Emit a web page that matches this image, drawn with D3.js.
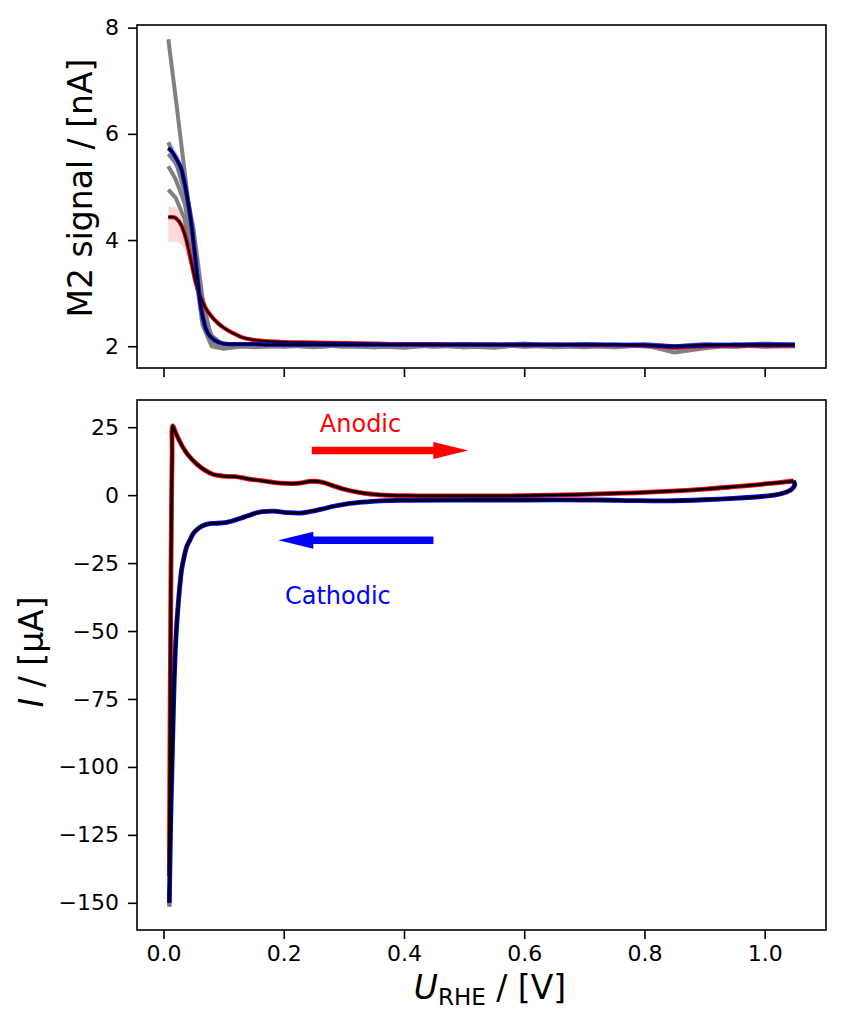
<!DOCTYPE html>
<html><head><meta charset="utf-8">
<script src="https://cdn.jsdelivr.net/npm/d3@7"></script>
<style>body{margin:0;background:#fff}svg{display:block}text{font-family:"DejaVu Sans",sans-serif}</style>
</head><body>
<script>
// ---------- Data ----------
// CV, anodic sweep
const anodicU = [0.0097,0.0105,0.0115,0.0125,0.0135,0.0143,0.0153,0.02,0.03,0.04,0.055,0.07,0.083,0.1,0.12,0.138,0.166,0.194,0.222,0.247,0.265,0.28,0.305,0.332,0.36,0.4,0.5,0.6,0.7,0.8,0.9,0.95,1.0,1.048];
const anodicI = [-140,-100,-60,-25,0,15,25.5,23,18.5,15,11.5,9,7.6,7,6.8,6.1,5.2,4.4,4.3,5.1,4.7,3.6,1.9,0.7,0.1,-0.2,-0.3,-0.2,0.3,1.0,2.2,3.1,4.1,5.2];
// CV, cathodic sweep
const cathodicU = [1.048,1.05,1.045,1.037,1.02,1.0,0.948,0.9,0.837,0.78,0.726,0.6,0.5,0.4,0.36,0.33,0.305,0.285,0.266,0.245,0.227,0.205,0.183,0.165,0.155,0.14,0.127,0.105,0.085,0.077,0.066,0.058,0.05,0.044,0.0386,0.034,0.030,0.0246,0.0208,0.0175,0.0147,0.012,0.0097];
const cathodicI = [5.2,3.8,2.2,1.2,0.2,-0.4,-1.2,-1.7,-2.1,-2.0,-1.8,-1.8,-1.8,-1.9,-2.1,-2.6,-3.2,-4.0,-5.0,-6.0,-6.6,-6.4,-5.9,-6.1,-6.5,-7.6,-8.6,-10.0,-10.4,-10.5,-11.2,-12.2,-14,-16.5,-19,-23,-27.6,-39.8,-52,-70.5,-95,-119.6,-150];
const grayTipU = [0.0097,0.0097];
const grayTipI = [-145,-151.5];

// M2 signal, individual cycles (coarse grid)
const msU = [0.008,0.02,0.035,0.05,0.065,0.08,0.1,0.125,0.15,0.2,0.25,0.3,0.35,0.4,0.45,0.5,0.55,0.6,0.65,0.7,0.75,0.8,0.85,0.9,0.95,1.0,1.05];
const cycle1 = [7.78,6.7,5.3,3.9,2.6,2.08,1.97,2.0,2.02,2.0,2.03,1.99,2.02,2.0,2.03,1.98,2.02,2.0,2.02,1.99,2.03,2.0,1.97,2.02,1.99,2.03,2.01];
const cycle2 = [5.84,5.5,4.9,3.6,2.4,2.0,1.95,1.99,2.01,2.03,1.98,2.02,2.0,1.97,2.02,2.0,1.97,2.03,1.99,2.01,1.98,2.02,1.88,1.96,2.02,1.99,2.0];
const cycle3 = [5.39,5.15,4.7,3.8,2.7,2.2,2.02,2.03,2.04,2.02,2.05,2.01,2.04,2.03,2.0,2.04,2.02,2.05,2.01,2.04,2.02,2.04,2.0,2.04,2.02,2.05,2.03];
const cycle4 = [4.95,4.8,4.4,3.5,2.6,2.15,1.98,2.03,2.01,1.99,2.02,2.0,1.98,2.02,1.99,2.01,2.03,1.99,2.01,1.98,2.02,2.0,1.96,1.99,2.03,2.0,2.02];
const cycle5 = [5.62,5.45,5.1,4.2,2.9,2.1,1.97,2.0,1.98,2.01,1.99,2.02,1.98,2.0,2.02,1.98,2.0,2.02,1.98,2.01,1.99,2.02,1.98,2.01,1.99,2.02,2.0];

// M2 signal, means and bands (fine grid)
const meanU = [0.008,0.015,0.022,0.03,0.038,0.046,0.054,0.062,0.07,0.08,0.09,0.1,0.115,0.13,0.15,0.175,0.2,0.25,0.3,0.35,0.4,0.45,0.5,0.55,0.6,0.65,0.7,0.75,0.8,0.85,0.9,0.95,1.0,1.05];
const anodicMS = [4.43,4.43,4.40,4.27,4.0,3.6,3.18,2.92,2.72,2.56,2.44,2.35,2.25,2.17,2.12,2.09,2.08,2.07,2.06,2.05,2.04,2.04,2.03,2.03,2.02,2.03,2.02,2.02,2.01,1.98,2.0,2.01,2.01,2.01];
const anodicLo = [3.97,3.97,3.97,3.9,3.7,3.4,3.05,2.82,2.65,2.5,2.4,2.32,2.22,2.15,2.1,2.07,2.06,2.05,2.04,2.03,2.02,2.02,2.01,2.01,2.0,2.01,2.0,2.0,1.99,1.95,1.98,1.99,1.99,1.99];
const anodicHi = [4.63,4.63,4.6,4.5,4.25,3.8,3.32,3.02,2.8,2.62,2.48,2.38,2.28,2.19,2.14,2.11,2.10,2.09,2.08,2.07,2.06,2.06,2.05,2.05,2.04,2.05,2.04,2.04,2.03,2.01,2.02,2.03,2.03,2.03];
const cathodicMS = [5.73,5.65,5.52,5.32,4.90,4.33,3.55,2.75,2.34,2.16,2.08,2.05,2.04,2.04,2.04,2.03,2.03,2.03,2.03,2.03,2.03,2.03,2.03,2.03,2.03,2.03,2.03,2.03,2.02,2.0,2.02,2.03,2.03,2.03];
const cathodicLo = [5.58,5.5,5.38,5.18,4.78,4.22,3.45,2.68,2.29,2.12,2.05,2.02,2.02,2.02,2.02,2.01,2.01,2.01,2.01,2.01,2.01,2.01,2.01,2.01,2.01,2.01,2.01,2.01,2.0,1.97,2.0,2.01,2.01,2.01];
const cathodicHi = [5.88,5.8,5.66,5.46,5.02,4.44,3.65,2.82,2.39,2.2,2.11,2.08,2.06,2.06,2.06,2.05,2.05,2.05,2.05,2.05,2.05,2.05,2.05,2.05,2.05,2.05,2.05,2.05,2.04,2.03,2.04,2.05,2.05,2.05];

// Axis ticks
const xTicks = [0.0,0.2,0.4,0.6,0.8,1.0];
const yTopTicks = [2,4,6,8];
const yBotTicks = [-150,-125,-100,-75,-50,-25,0,25];

// ---------- Drawing ----------
const W = 843, H = 1024;
const svg = d3.select("body").append("svg").attr("width", W).attr("height", H);

const x = d3.scaleLinear().domain([-0.0441, 1.102]).range([137, 826]);
const yT = d3.scaleLinear().domain([1.59, 8.05]).range([368, 25]);
const yB = d3.scaleLinear().domain([-160, 35]).range([930, 400]);

function zip(u, v) { return u.map((d, i) => [d, v[i]]); }

function drawAxes(yScale, yTicks, showXLabels, top, bottom) {
  const gx = svg.append("g").attr("transform", `translate(0,${bottom})`)
    .call(d3.axisBottom(x).tickValues(xTicks).tickSize(9).tickPadding(6)
      .tickFormat(showXLabels ? d3.format(".1f") : ""));
  const gy = svg.append("g").attr("transform", `translate(137,0)`)
    .call(d3.axisLeft(yScale).tickValues(yTicks).tickSize(9).tickPadding(9).tickFormat(d3.format("d")));
  [gx, gy].forEach(g => {
    g.select(".domain").remove();
    g.selectAll("line").attr("stroke", "#000").attr("stroke-width", 1.6);
    g.selectAll("text").attr("font-size", 22).attr("fill", "#000").attr("font-family", "DejaVu Sans");
  });
  svg.append("rect").attr("x", 137).attr("y", top).attr("width", 826 - 137).attr("height", bottom - top)
    .attr("fill", "none").attr("stroke", "#000").attr("stroke-width", 1.6);
}

// ----- Top panel -----
const gTop = svg.append("g");
svg.append("clipPath").attr("id", "clipT").append("rect")
  .attr("x", 137).attr("y", 25).attr("width", 689).attr("height", 343);
gTop.attr("clip-path", "url(#clipT)");
const lineT = d3.line().x(d => x(d[0])).y(d => yT(d[1]));
const smoothT = d3.line().x(d => x(d[0])).y(d => yT(d[1])).curve(d3.curveMonotoneX);
const areaT = d3.area().x(d => x(d[0])).y0(d => yT(d[1])).y1(d => yT(d[2])).curve(d3.curveMonotoneX);

gTop.append("path").datum(meanU.map((u, i) => [u, anodicLo[i], anodicHi[i]]))
  .attr("d", areaT).attr("fill", "#ff0000").attr("fill-opacity", 0.15);
gTop.append("path").datum(meanU.map((u, i) => [u, cathodicLo[i], cathodicHi[i]]))
  .attr("d", areaT).attr("fill", "#0000ff").attr("fill-opacity", 0.15);

[cycle1, cycle2, cycle3, cycle4, cycle5].forEach(c => {
  gTop.append("path").datum(zip(msU, c)).attr("d", lineT)
    .attr("fill", "none").attr("stroke", "#808080").attr("stroke-width", 4).attr("stroke-linejoin", "round");
});
gTop.append("path").datum(zip(meanU, anodicMS)).attr("d", smoothT)
  .attr("fill", "none").attr("stroke", "#ff0000").attr("stroke-width", 4.2);
gTop.append("path").datum(zip(meanU, anodicMS)).attr("d", smoothT)
  .attr("fill", "none").attr("stroke", "#000").attr("stroke-width", 2.2);
gTop.append("path").datum(zip(meanU, cathodicMS)).attr("d", smoothT)
  .attr("fill", "none").attr("stroke", "#0000ff").attr("stroke-width", 4.2);
gTop.append("path").datum(zip(meanU, cathodicMS)).attr("d", smoothT)
  .attr("fill", "none").attr("stroke", "#000").attr("stroke-width", 2.2);

drawAxes(yT, yTopTicks, false, 25, 368);

// ----- Bottom panel -----
const gBot = svg.append("g");
const cvLine = d3.line().x(d => x(d[0])).y(d => yB(d[1])).curve(d3.curveCatmullRom.alpha(0.5));
gBot.append("path").datum(zip(grayTipU, grayTipI)).attr("d", d3.line().x(d => x(d[0])).y(d => yB(d[1])))
  .attr("fill", "none").attr("stroke", "#808080").attr("stroke-width", 4.5);
gBot.append("path").datum(zip(anodicU, anodicI)).attr("d", cvLine)
  .attr("fill", "none").attr("stroke", "#ff0000").attr("stroke-width", 4.8).attr("stroke-linejoin", "round");
gBot.append("path").datum(zip(cathodicU, cathodicI)).attr("d", cvLine)
  .attr("fill", "none").attr("stroke", "#0000ff").attr("stroke-width", 4.8).attr("stroke-linejoin", "round");
gBot.append("path").datum(zip(anodicU, anodicI)).attr("d", cvLine)
  .attr("fill", "none").attr("stroke", "#000").attr("stroke-width", 2.8).attr("stroke-linejoin", "round");
gBot.append("path").datum(zip(cathodicU, cathodicI)).attr("d", cvLine)
  .attr("fill", "none").attr("stroke", "#000").attr("stroke-width", 2.8).attr("stroke-linejoin", "round");

// arrows
function arrow(u0, u1, iv, color) {
  const x0 = x(u0), x1 = x(u1), yc = yB(iv);
  const dir = Math.sign(x1 - x0), hl = 35, sw = 3.7, hw = 8.5;
  const xb = x1 - dir * hl;
  const pts = [[x0, yc - sw], [xb, yc - sw], [xb, yc - hw], [x1, yc], [xb, yc + hw], [xb, yc + sw], [x0, yc + sw]];
  svg.append("polygon").attr("points", pts.map(p => p.join(",")).join(" ")).attr("fill", color);
}
arrow(0.2466, 0.507, 16.4, "#ff0000");
arrow(0.449, 0.191, -16.6, "#0000ff");

svg.append("text").attr("x", x(0.26)).attr("y", yB(23.2)).attr("font-size", 24).attr("fill", "#ff0000").text("Anodic");
svg.append("text").attr("x", x(0.202)).attr("y", yB(-40.1)).attr("font-size", 24).attr("fill", "#0000ff").text("Cathodic");

drawAxes(yB, yBotTicks, true, 400, 930);

// axis labels
svg.append("text").attr("transform", "translate(92,188) rotate(-90)").attr("text-anchor", "middle")
  .attr("font-size", 33).attr("fill", "#000").text("M2 signal / [nA]");
const yl = svg.append("text").attr("transform", "translate(43,652) rotate(-90)").attr("text-anchor", "middle")
  .attr("font-size", 33).attr("fill", "#000");
yl.append("tspan").attr("font-style", "italic").text("I");
yl.append("tspan").text(" / [µA]");
const xl = svg.append("text").attr("x", 490).attr("y", 999).attr("text-anchor", "middle")
  .attr("font-size", 33).attr("fill", "#000");
xl.append("tspan").attr("font-style", "italic").text("U");
xl.append("tspan").attr("font-size", 23).attr("dy", 6).text("RHE");
xl.append("tspan").attr("dy", -6).text(" / [V]");
</script>
</body></html>
